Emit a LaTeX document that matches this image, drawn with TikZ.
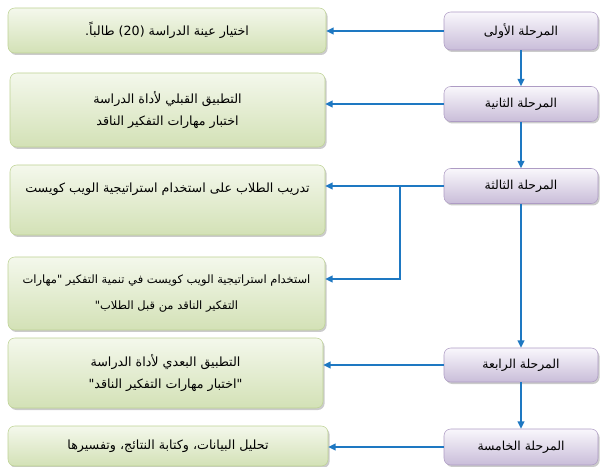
\documentclass[tikz,border=0pt]{standalone}
\usepackage{fontspec}
\TeXXeTstate=1
\newfontfamily\arabicfont[Script=Arabic]{DejaVu Sans}
\usetikzlibrary{arrows.meta,shadows}

\definecolor{greenTop}{HTML}{F4F8EC}
\definecolor{greenBot}{HTML}{D3E1B6}
\definecolor{greenLine}{HTML}{BDD293}
\definecolor{purpleTop}{HTML}{F9F7FC}
\definecolor{purpleBot}{HTML}{C9BDD9}
\definecolor{purpleLine}{HTML}{AE9CC4}
\definecolor{flowBlue}{HTML}{1E78C2}

\tikzset{
  taskbox/.style={draw=greenLine, rounded corners=5pt, top color=greenTop, bottom color=greenBot,
    drop shadow={shadow xshift=1.2pt, shadow yshift=-1.5pt, fill=black!45, opacity=0.45},
    inner sep=0.75pt, align=center, font=\arabicfont\fontsize{9.5}{17}\selectfont},
  stagebox/.style={draw=purpleLine, rounded corners=5pt, top color=purpleTop, bottom color=purpleBot,
    drop shadow={shadow xshift=1.2pt, shadow yshift=-1.5pt, fill=black!45, opacity=0.45},
    minimum width=115.5pt, inner sep=0.75pt, font=\arabicfont\fontsize{9.3}{10}\selectfont},
  flow/.style={draw=flowBlue, line width=1.1pt, -{Triangle[length=5.5pt,width=5pt]}}
}

\begin{document}
\begin{tikzpicture}[x=0.75pt,y=0.75pt,yscale=-1,xscale=1]
\useasboundingbox (0,0) rectangle (601,467);

% Stage Nodes
\node (stage1) at (521,31) [stagebox, minimum height=28.5pt] {\beginR المرحلة الأولى\endR};

\node (stage2) at (521,104) [stagebox, minimum height=26.25pt] {\beginR المرحلة الثانية\endR};

\node (stage3) at (521,186) [stagebox, minimum height=26.25pt] {\beginR المرحلة الثالثة\endR};

\node (stage4) at (521,365) [stagebox, minimum height=25.5pt] {\beginR المرحلة الرابعة\endR};

\node (stage5) at (521,447) [stagebox, minimum height=27pt] {\beginR المرحلة الخامسة\endR};

% Task Nodes
\node (task1) at (167,30.5) [taskbox, minimum width=238.5pt, minimum height=33.75pt] {\beginR اختيار عينة الدراسة \beginL(20)\endL\ طالباً.\endR};

\node (task2) at (167.5,110) [taskbox, minimum width=236.25pt, minimum height=55.5pt] {\beginR التطبيق القبلي لأداة الدراسة\endR\\\beginR اختبار مهارات التفكير الناقد\endR};

\node (task3) at (167.5,200) [taskbox, minimum width=236.25pt, minimum height=52.5pt, text depth=19pt] {\beginR تدريب الطلاب على استخدام استراتيجية الويب كويست\endR};

\node (task4) at (166.5,293.5) [taskbox, minimum width=237.75pt, minimum height=54.75pt, font=\arabicfont\fontsize{8.6}{20}\selectfont] {\beginR استخدام استراتيجية الويب كويست في تنمية التفكير "مهارات\endR\\\beginR التفكير الناقد من قبل الطلاب"\endR};

\node (task5) at (165.5,373) [taskbox, minimum width=236.25pt, minimum height=52.5pt] {\beginR التطبيق البعدي لأداة الدراسة\endR\\\beginR "اختبار مهارات التفكير الناقد"\endR};

\node (task6) at (168,446) [taskbox, minimum width=240pt, minimum height=30pt] {\beginR تحليل البيانات، وكتابة النتائج، وتفسيرها\endR};

% Connectors
\coordinate (split) at (400,186);
\coordinate (turn) at (400,279);

\draw [flow] (stage1) -- (stage2);
\draw [flow] (stage2) -- (stage3);
\draw [flow] (stage3) -- (stage4);
\draw [flow] (stage4) -- (stage5);

\draw [flow] (stage1.west) -- (stage1.west -| task1.east);
\draw [flow] (stage2.west) -- (stage2.west -| task2.east);
\draw [flow] (stage3.west) -- (stage3.west -| task3.east);
\draw [flow] (split) -- (turn) -- (turn -| task4.east);
\draw [flow] (stage4.west) -- (stage4.west -| task5.east);
\draw [flow] (stage5.west) -- (stage5.west -| task6.east);

\end{tikzpicture}
\end{document}
